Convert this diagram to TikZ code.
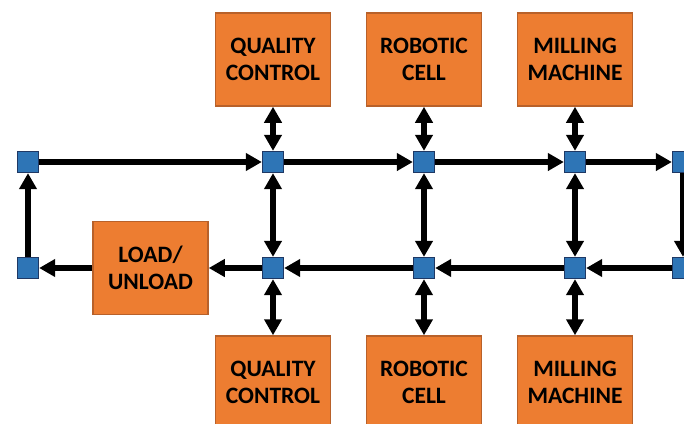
\documentclass[tikz,border=0pt]{standalone}
\usepackage{fontspec}
\setmainfont{Carlito}
\usetikzlibrary{arrows.meta}
\definecolor{boxorange}{HTML}{ED7D31}
\definecolor{boxedge}{HTML}{B8612A}
\definecolor{nodeblue}{HTML}{2E75B6}
\definecolor{nodeedge}{HTML}{1F3864}
\begin{document}
\begin{tikzpicture}[x=1pt,y=-1pt,
  station/.style={draw=boxedge,line width=1.5pt,fill=boxorange,minimum width=115pt,minimum height=93pt,inner sep=0pt,
    font=\fontsize{23.5}{27.5}\selectfont\bfseries,align=center},
  junction/.style={draw=nodeedge,line width=1.3pt,fill=nodeblue,minimum size=21pt,inner sep=0pt},
  flow/.style={line width=6pt,-{Triangle[width=17pt,length=16pt]}},
  biflow/.style={line width=6pt,{Triangle[width=17pt,length=16pt]}-{Triangle[width=17pt,length=16pt]}}]
\useasboundingbox (0,0) rectangle (684,423);
\clip (0,0) rectangle (684,423);
% stations
\node[station] (qct) at (273,59.5) {QUALITY\\CONTROL};
\node[station] (rct) at (424,59.5) {ROBOTIC\\CELL};
\node[station] (mmt) at (575,59.5) {MILLING\\MACHINE};
\node[station] (qcb) at (273,382.5) {QUALITY\\CONTROL};
\node[station] (rcb) at (424,382.5) {ROBOTIC\\CELL};
\node[station] (mmb) at (575,382.5) {MILLING\\MACHINE};
\node[station] (lu) at (150.5,268) {LOAD/\\UNLOAD};
% junctions
\node[junction] (t0) at (28,162) {};
\node[junction] (t1) at (273,162) {};
\node[junction] (t2) at (424,162) {};
\node[junction] (t3) at (575,162) {};
\node[junction] (t4) at (683,162) {};
\node[junction] (b0) at (28,268) {};
\node[junction] (b1) at (273,268) {};
\node[junction] (b2) at (424,268) {};
\node[junction] (b3) at (575,268) {};
\node[junction] (b4) at (683,268) {};
% top row
\draw[flow] (t0) -- (t1);
\draw[flow] (t1) -- (t2);
\draw[flow] (t2) -- (t3);
\draw[flow] (t3) -- (t4);
\draw[flow] (t4) -- (b4);
% bottom row
\draw[flow] (b4) -- (b3);
\draw[flow] (b3) -- (b2);
\draw[flow] (b2) -- (b1);
\draw[flow] (b1) -- (lu);
\draw[flow] (lu) -- (b0);
\draw[flow] (b0) -- (t0);
% vertical links
\draw[biflow] (qct) -- (t1);
\draw[biflow] (rct) -- (t2);
\draw[biflow] (mmt) -- (t3);
\draw[biflow] (t1) -- (b1);
\draw[biflow] (t2) -- (b2);
\draw[biflow] (t3) -- (b3);
\draw[biflow] (b1) -- (qcb);
\draw[biflow] (b2) -- (rcb);
\draw[biflow] (b3) -- (mmb);
\end{tikzpicture}
\end{document}
